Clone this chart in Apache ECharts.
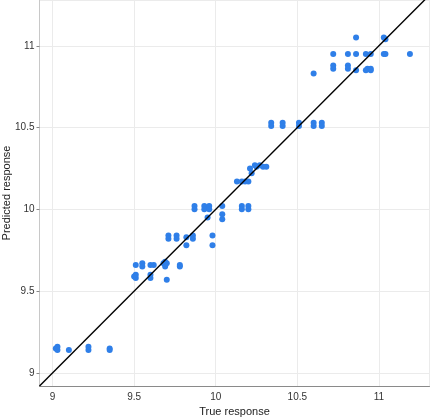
<!DOCTYPE html>
<html>
<head>
<meta charset="utf-8">
<title>Predicted vs True</title>
<script src="https://cdn.jsdelivr.net/npm/echarts@6/dist/echarts.min.js"></script>
<style>
html, body { margin: 0; padding: 0; background: #fff; }
#chart { width: 432px; height: 419px; }
</style>
</head>
<body>
<div id="chart"></div>
<script>
// true response values (x)
var trueVals = [
  9.02, 9.03, 9.03, 9.10, 9.22, 9.22, 9.35, 9.35,
  9.51, 9.55, 9.55, 9.60, 9.62, 9.68, 9.69, 9.70, 9.69, 9.78, 9.78,
  9.50, 9.51, 9.51, 9.60, 9.60, 9.70,
  9.71, 9.71, 9.76, 9.76, 9.82, 9.86, 9.86, 9.82, 9.98, 9.98,
  9.87, 9.87, 9.93, 9.93, 9.96, 9.96, 9.95, 10.04, 10.04, 10.04, 10.16, 10.16, 10.20, 10.20,
  10.13, 10.16, 10.18, 10.20, 10.22, 10.21, 10.24, 10.27, 10.29, 10.25, 10.31,
  10.34, 10.34, 10.41, 10.41, 10.51, 10.51, 10.60, 10.60, 10.65, 10.65,
  10.60,
  10.72, 10.81, 10.86, 10.92, 10.95, 11.03, 11.04, 11.19,
  10.72, 10.72, 10.81, 10.81, 10.86, 10.92, 10.93, 10.95, 10.95,
  10.86, 11.03, 11.04
];
// predicted response values (y)
var predVals = [
  9.15, 9.14, 9.16, 9.14, 9.14, 9.16, 9.15, 9.14,
  9.66, 9.67, 9.65, 9.66, 9.66, 9.67, 9.68, 9.67, 9.65, 9.65, 9.66,
  9.59, 9.58, 9.60, 9.58, 9.60, 9.57,
  9.84, 9.82, 9.84, 9.82, 9.83, 9.84, 9.82, 9.78, 9.84, 9.78,
  10.02, 10.00, 10.02, 10.00, 10.02, 10.00, 9.95, 10.02, 9.97, 9.94, 10.02, 10.00, 10.02, 10.00,
  10.17, 10.17, 10.17, 10.17, 10.22, 10.25, 10.27, 10.27, 10.26, 10.26, 10.26,
  10.53, 10.51, 10.53, 10.51, 10.53, 10.51, 10.53, 10.51, 10.53, 10.51,
  10.83,
  10.95, 10.95, 10.95, 10.95, 10.95, 10.95, 10.95, 10.95,
  10.88, 10.86, 10.88, 10.86, 10.85, 10.85, 10.86, 10.85, 10.86,
  11.05, 11.05, 11.04
];
var xRange = [8.92, 11.31];
var yRange = [8.92, 11.28];

var points = trueVals.map(function (v, i) { return [v, predVals[i]]; });

var chart = echarts.init(document.getElementById('chart'));
var font = 'Liberation Sans, Arial, sans-serif';
chart.setOption({
  animation: false,
  grid: { left: 39.5, right: 2.5, top: 0, bottom: 33, containLabel: false, outerBoundsMode: 'none' },
  xAxis: {
    type: 'value',
    min: xRange[0], max: xRange[1],
    splitNumber: 5,
    name: 'True response',
    nameLocation: 'middle',
    nameGap: 19,
    nameTextStyle: { color: '#222', fontSize: 11, fontFamily: font },
    axisLine: { show: true, onZero: false, lineStyle: { color: '#8a8a8a', width: 1 } },
    axisTick: { show: false },
    axisLabel: { color: '#333', fontSize: 10, fontFamily: font, margin: 6, showMinLabel: false, showMaxLabel: false },
    splitLine: { show: true, lineStyle: { color: '#ebebeb', width: 1 } }
  },
  yAxis: {
    type: 'value',
    min: yRange[0], max: yRange[1],
    splitNumber: 5,
    name: 'Predicted response',
    nameLocation: 'middle',
    nameGap: 27,
    nameRotate: 90,
    nameMoveOverlap: false,
    nameTruncate: { maxWidth: 300 },
    nameTextStyle: { color: '#222', fontSize: 11, fontFamily: font, width: 200, overflow: 'none' },
    axisLine: { show: true, onZero: false, lineStyle: { color: '#c8c8c8', width: 1 } },
    axisTick: { show: true, length: 3, lineStyle: { color: '#888' } },
    axisLabel: { color: '#333', fontSize: 10, fontFamily: font, margin: 5, showMinLabel: false, showMaxLabel: false },
    splitLine: { show: true, lineStyle: { color: '#ebebeb', width: 1 } }
  },
  series: [
    {
      type: 'scatter',
      data: points,
      symbol: 'circle',
      symbolSize: 6,
      itemStyle: { color: '#2f7fe8', opacity: 1 },
      z: 2
    },
    {
      type: 'line',
      data: [[xRange[0], xRange[0]], [xRange[1], xRange[1]]],
      showSymbol: false,
      symbol: 'none',
      clip: true,
      lineStyle: { color: '#000', width: 1.4 },
      z: 3
    }
  ]
});
</script>
</body>
</html>
